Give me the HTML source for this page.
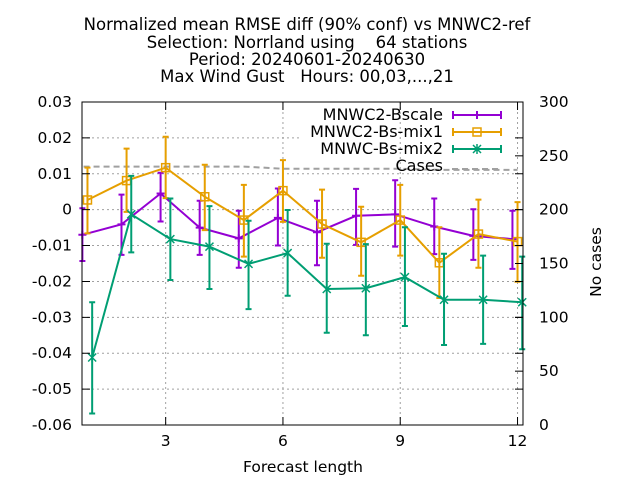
<!DOCTYPE html>
<html><head><meta charset="utf-8"><style>
body{margin:0;background:#fff}
svg{font-family:"DejaVu Sans","Liberation Sans",sans-serif;display:block}
text{white-space:pre}
</style></head><body>
<svg id="chart" width="640" height="480" viewBox="0 0 640 480" xmlns="http://www.w3.org/2000/svg" xml:space="preserve">
<g font-size="16.5" text-anchor="middle" fill="#000">
<text x="307" y="30">Normalized mean RMSE diff (90% conf) vs MNWC2-ref</text>
<text x="307" y="48">Selection: Norrland using    64 stations</text>
<text x="307" y="65">Period: 20240601-20240630</text>
<text x="307" y="82">Max Wind Gust   Hours: 00,03,...,21</text>
</g>
<g id="grid"></g>
<g id="marks"></g>
<g id="axes"></g>
<g id="legend"></g>
<text x="303" y="472" font-size="15.5" text-anchor="middle">Forecast length</text>
<text transform="translate(601,262) rotate(-90)" font-size="15.5" text-anchor="middle">No cases</text>
</svg>
<script>
const xCats=[1,2,3,4,5,6,7,8,9,10,11,12];
const bscale=[-0.0070,-0.0041,0.0045,-0.0050,-0.0080,-0.0023,-0.0063,-0.0017,-0.0013,-0.0047,-0.0073,-0.0082];
const bscaleHi=[0.0004,0.0042,0.0103,0.0025,-0.0003,0.0059,0.0025,0.0058,0.0082,0.0031,0.0001,-0.0003];
const bscaleLo=[-0.0143,-0.0126,-0.0033,-0.0126,-0.0162,-0.0100,-0.0155,-0.0098,-0.0103,-0.0124,-0.0140,-0.0165];
const mix1=[0.0027,0.0081,0.0117,0.0036,-0.0029,0.0053,-0.0040,-0.0091,-0.0029,-0.0148,-0.0068,-0.0089];
const mix1Hi=[0.0117,0.0170,0.0203,0.0125,0.0069,0.0138,0.0056,0.0008,0.0069,-0.0049,0.0028,0.0021];
const mix1Lo=[-0.0066,-0.0006,0.0032,-0.0057,-0.0131,-0.0034,-0.0134,-0.0184,-0.0128,-0.0246,-0.0162,-0.0201];
const mix2=[-0.0412,-0.0013,-0.0082,-0.0103,-0.0151,-0.0121,-0.0221,-0.0219,-0.0188,-0.0251,-0.0251,-0.0258];
const mix2Hi=[-0.0258,0.0094,0.0031,0.0010,-0.0031,-0.0001,-0.0095,-0.0096,-0.0049,-0.0123,-0.0128,-0.0131];
const mix2Lo=[-0.0568,-0.0119,-0.0196,-0.0221,-0.0277,-0.0240,-0.0343,-0.0350,-0.0324,-0.0377,-0.0374,-0.0389];
const cases=[240,240,240,240,240,238,238,238,238,237,237,237];
const yTicks=[0.03,0.02,0.01,0,-0.01,-0.02,-0.03,-0.04,-0.05,-0.06];
const yTickLabels=["0.03","0.02","0.01","0","-0.01","-0.02","-0.03","-0.04","-0.05","-0.06"];
const xTicks=[3,6,9,12];
const y2Ticks=[0,50,100,150,200,250,300];

const L=82,R=523,T=102,B=425,XMIN=0.86,XMAX=12.14;
const sx=v=>L+(v-XMIN)/(XMAX-XMIN)*(R-L);
const sy=v=>T+(0.03-v)/0.09*(B-T);
const sy2=v=>B-v/300*(B-T);
const NS="http://www.w3.org/2000/svg";
function mk(tag,attrs,parent){const e=document.createElementNS(NS,tag);for(const k in attrs)e.setAttribute(k,attrs[k]);parent.appendChild(e);return e;}
const grid=document.getElementById('grid'),axes=document.getElementById('axes'),marks=document.getElementById('marks'),legend=document.getElementById('legend');

yTicks.forEach((t,i)=>{
 const y=sy(t);
 if(i>0&&i<yTicks.length-1){const g=mk('line',{x1:L,x2:(t>=0.02?300:R),y1:y,y2:y,stroke:'#a0a0a0','stroke-dasharray':'2,3','stroke-width':1},grid);
 
 }
 const tk=mk('path',{d:`M${L},${y}h8M${R},${y}h-8`,stroke:'#000'},axes);
 
 
 const tx=mk('text',{x:L-10,y:y+5,'font-size':15.5,'text-anchor':'end'},axes);tx.textContent=yTickLabels[i];
 
 
});
xTicks.forEach(t=>{
 const x=sx(t);
 const g=mk('line',{x1:x,x2:x,y1:T,y2:B,stroke:'#a0a0a0','stroke-dasharray':'2,3'},grid);
 
 
 const tk=mk('path',{d:`M${x},${B}v-8M${x},${T}v8`,stroke:'#000'},axes);
 
 
 const tx=mk('text',{x:x,y:B+21,'font-size':15.5,'text-anchor':'middle'},axes);tx.textContent=String(t);
 
 
});
y2Ticks.forEach(t=>{
 const y=sy2(t);
 const tk=mk('path',{d:`M${R},${y}h-8`,stroke:'#000'},axes);
 
 
 const tx=mk('text',{x:R+16,y:y+5,'font-size':15.5},axes);tx.textContent=String(t);
 
 
});
const frame=mk('rect',{x:L,y:T,width:R-L,height:B-T,fill:'none',stroke:'#000','stroke-width':1},axes);



let cd='';xCats.forEach((c,i)=>{cd+=(i?'L':'M')+sx(c+(i==0?-0.1:0))+','+sy2(cases[i]);});
const cl=mk('path',{d:cd,fill:'none',stroke:'#a0a0a0','stroke-width':2,'stroke-dasharray':'6,4'},marks);



function marker(type,x,y,color,g){
 if(type==='plus'){mk('path',{d:`M${x-4},${y}h8M${x},${y-4}v8`,stroke:color,'stroke-width':2},g);}
 else if(type==='sq'){mk('rect',{x:x-4,y:y-4,width:8,height:8,fill:'none',stroke:color,'stroke-width':1.5},g);}
 else {mk('path',{d:`M${x-4},${y-4}l8,8M${x+4},${y-4}l-8,8M${x},${y-5}v10`,stroke:color,'stroke-width':1.5},g);}
}
function series(name,vals,hi,lo,off,color,type){
 const g=mk('g',{},marks);
 
 
 let d='';
 vals.forEach((v,i)=>{d+=(i?'L':'M')+sx(xCats[i]+off)+','+sy(v);});
 mk('path',{d:d,fill:'none',stroke:color,'stroke-width':2},g);
 vals.forEach((v,i)=>{
  const x=sx(xCats[i]+off);
  const eb=mk('path',{d:`M${x},${sy(hi[i])}V${sy(lo[i])}M${x-3},${sy(hi[i])}h6M${x-3},${sy(lo[i])}h6`,stroke:color,'stroke-width':2,fill:'none'},g);
  
  
  marker(type,x,sy(v),color,g);
 });
}
series('series-mnwc2-bscale',bscale,bscaleHi,bscaleLo,-0.13,'#9400d3','plus');
series('series-mnwc2-bs-mix1',mix1,mix1Hi,mix1Lo,0,'#e69f00','sq');
series('series-mnwc-bs-mix2',mix2,mix2Hi,mix2Lo,0.12,'#009e73','x');

const leg=[['MNWC2-Bscale','#9400d3','plus'],['MNWC2-Bs-mix1','#e69f00','sq'],['MNWC-Bs-mix2','#009e73','x'],['Cases','#a0a0a0','dash']];
leg.forEach((e,i)=>{
 const y=115+i*17;
 const g=mk('g',{},legend);
 
 
 const t=mk('text',{x:443,y:y+5,'font-size':16,'text-anchor':'end'},g);t.textContent=e[0];
 if(e[2]==='dash'){mk('line',{x1:452,x2:502,y1:y+3,y2:y+3,stroke:e[1],'stroke-width':2,'stroke-dasharray':'6,4'},g);}
 else{mk('path',{d:`M453,${y}h48M453,${y-4}v8M501,${y-4}v8`,stroke:e[1],'stroke-width':2},g);marker(e[2],477,y,e[1],g);}
});
</script>
</body></html>
